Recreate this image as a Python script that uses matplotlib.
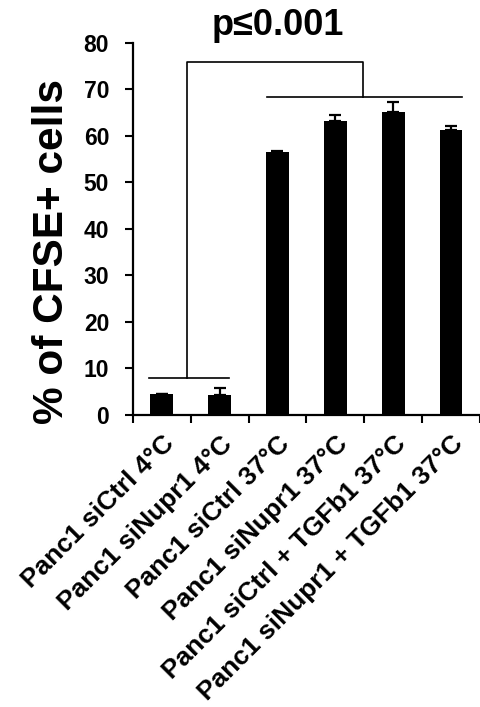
import numpy as np
import matplotlib
matplotlib.use("Agg")
import matplotlib.pyplot as plt

plt.rcParams["font.family"] = ["Liberation Sans", "DejaVu Sans"]
plt.rcParams["font.weight"] = "bold"

# data
labels = [
    "Panc1 siCtrl 4°C",
    "Panc1 siNupr1 4°C",
    "Panc1 siCtrl 37°C",
    "Panc1 siNupr1 37°C",
    "Panc1 siCtrl + TGFb1 37°C",
    "Panc1 siNupr1 + TGFb1 37°C",
]
values = [4.5, 4.2, 56.6, 63.2, 65.2, 61.2]
errors = [0.1, 1.5, 0.2, 1.2, 2.0, 0.8]
y_ticks = [0, 10, 20, 30, 40, 50, 60, 70, 80]
p_text = "p≤0.001"

fig = plt.figure(figsize=(4.81, 7.07), dpi=100)
ax = fig.add_axes([0.276, 0.413, 0.722, 0.5266])

x = np.arange(len(values))
ax.bar(x, values, width=0.39, color="black", zorder=3)
ax.errorbar(x, values, yerr=[np.zeros(len(errors)), errors], fmt="none",
            ecolor="black", elinewidth=1.6, capsize=4.5, capthick=1.6, zorder=3)

ax.set_xlim(-0.5, len(values) - 0.5)
ax.set_ylim(0, 80)
ax.set_yticks(y_ticks)
ax.set_yticklabels([str(t) for t in y_ticks], fontsize=16.5, fontweight="bold")

# category labels at centres, tick marks at boundaries
ax.set_xticks(x)
ax.set_xticklabels(labels, rotation=45, ha="right", rotation_mode="anchor",
                   fontsize=19, fontweight="bold")
ax.set_xticks(np.arange(-0.5, len(values) + 0.5, 1), minor=True)
ax.tick_params(axis="x", which="major", length=0, pad=12)
ax.tick_params(axis="x", which="minor", length=6, width=1.5, direction="out")
ax.tick_params(axis="y", length=6, width=1.5, direction="out", pad=11)

for side in ["top", "right"]:
    ax.spines[side].set_visible(False)
for side in ["left", "bottom"]:
    ax.spines[side].set_linewidth(1.6)

ax.set_ylabel("% of CFSE+ cells", fontsize=30.5, fontweight="bold")
ax.yaxis.label.set_va("center")
ax.yaxis.set_label_coords(-0.232, 0.44)

# significance brackets
lw = 1.2
ax.plot([-0.225, 1.17], [8.0, 8.0], color="black", lw=lw, clip_on=False)
ax.plot([1.82, 5.19], [68.3, 68.3], color="black", lw=lw, clip_on=False)
ax.plot([0.445, 0.445, 3.47, 3.47], [8.0, 75.8, 75.8, 68.3],
        color="black", lw=lw, clip_on=False)
ax.text(2.0, 83.6, p_text, ha="center", va="center", fontsize=26,
        fontweight="bold", clip_on=False)

fig.savefig("out.png", dpi=100)
